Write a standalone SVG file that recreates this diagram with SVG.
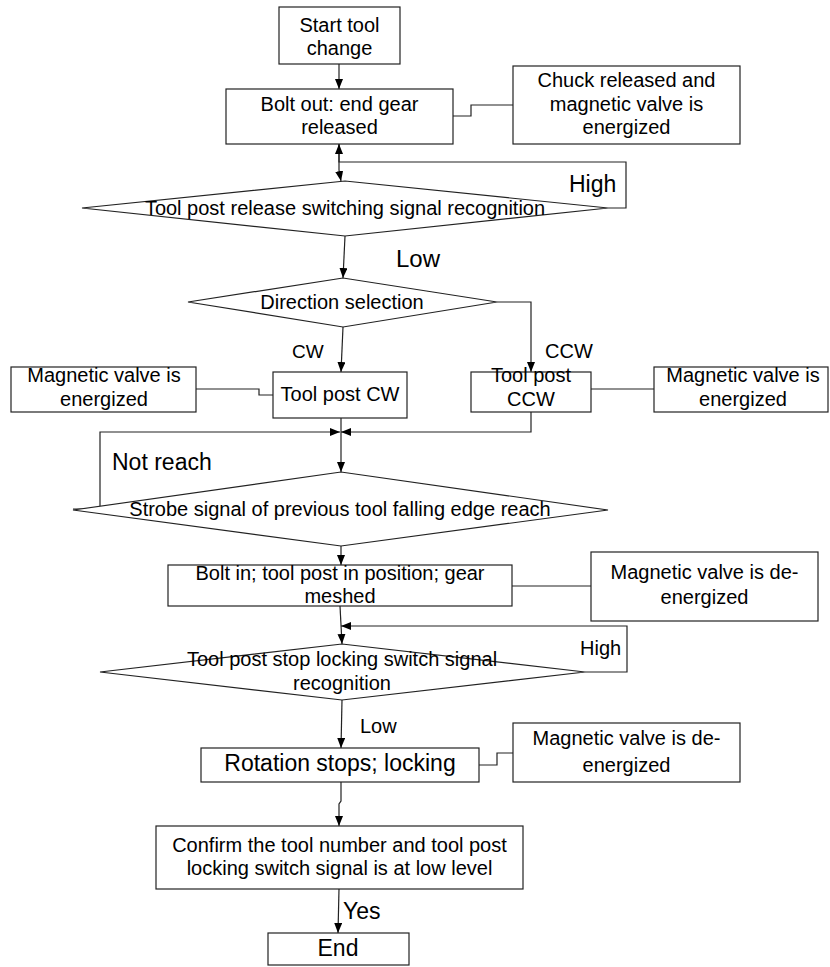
<svg xmlns="http://www.w3.org/2000/svg" width="830" height="967" viewBox="0 0 830 967">
<style>
.n{fill:#fff;stroke:#222;stroke-width:1.2}
.t{font-family:"Liberation Sans",Arial,sans-serif;font-size:20px;fill:#000;text-anchor:middle}
.l{font-family:"Liberation Sans",Arial,sans-serif;fill:#000}
.c{fill:none;stroke:#222;stroke-width:1.2;marker-end:url(#ah)}
.p{fill:none;stroke:#222;stroke-width:1.2}
</style>
<defs>
<marker id="ah" markerUnits="userSpaceOnUse" markerWidth="10" markerHeight="8" refX="10" refY="4" orient="auto">
<path d="M0,0 L10,4 L0,8 z" fill="#000"/>
</marker>
</defs>
<rect width="830" height="967" fill="#fff"/>
<g id="connectors">
<path class="c" d="M339,64 V89"/>
<path class="p" d="M453,116 H471 V105 H513"/>
<path class="c" d="M339,144 V170 L341,181"/>
<path class="c" d="M608,208 H626 V162 H339 V144"/>
<path class="c" d="M345,236 L343,278"/>
<path class="c" d="M343,327 L341,372"/>
<path class="c" d="M497,302 H531 V372"/>
<path class="p" d="M196,389 H259 V395 H273"/>
<path class="p" d="M591,389 H654"/>
<path class="c" d="M341,418 V472"/>
<path class="c" d="M531,412 V432 H341"/>
<path class="c" d="M73,509 H100 V432 H340"/>
<path class="c" d="M341,546 V565"/>
<path class="p" d="M512,586 H591"/>
<path class="c" d="M340,606 L342,644"/>
<path class="c" d="M585,672 H627 V626 H341"/>
<path class="c" d="M342,700 L341,748"/>
<path class="p" d="M479,765 H497 V753 H513"/>
<path class="c" d="M341,782 V801 L339,804 V826"/>
<path class="c" d="M339,889 L338,933"/>
</g>
<g id="start"><rect class="n" x="279" y="7" width="121" height="57"/><text class="t" x="339.5" y="32">Start tool</text><text class="t" x="339.5" y="55">change</text></g>
<g id="boltout"><rect class="n" x="226" y="89" width="227" height="55"/><text class="t" x="339.5" y="111">Bolt out: end gear</text><text class="t" x="339.5" y="134">released</text></g>
<g id="chuck"><rect class="n" x="513" y="66" width="227" height="78"/><text class="t" x="626.5" y="87">Chuck released and</text><text class="t" x="626.5" y="111">magnetic valve is</text><text class="t" x="626.5" y="134">energized</text></g>
<g id="release"><polygon class="n" points="82,208 345,181 608,208 345,236"/><text class="t" x="345" y="215">Tool post release switching signal recognition</text></g>
<g id="direction"><polygon class="n" points="188,302 343,278 497,302 343,327"/><text class="t" x="342" y="309">Direction selection</text></g>
<g id="cw"><rect class="n" x="273" y="372" width="134" height="46"/><text class="t" x="340" y="401">Tool post CW</text></g>
<g id="magL"><rect class="n" x="11" y="367" width="185" height="45"/><text class="t" x="104" y="382">Magnetic valve is</text><text class="t" x="104" y="406">energized</text></g>
<g id="ccw"><rect class="n" x="471" y="372" width="120" height="40"/><text class="t" x="531" y="382">Tool post</text><text class="t" x="531" y="406">CCW</text></g>
<g id="magR"><rect class="n" x="654" y="367" width="174" height="45"/><text class="t" x="743" y="382">Magnetic valve is</text><text class="t" x="743" y="406">energized</text></g>
<g id="strobe"><polygon class="n" points="73,510 341,472 608,510 341,546"/><text class="t" x="340" y="516">Strobe signal of previous tool falling edge reach</text></g>
<g id="boltin"><rect class="n" x="168" y="565" width="344" height="41"/><text class="t" x="340" y="580">Bolt in; tool post in position; gear</text><text class="t" x="340" y="603">meshed</text></g>
<g id="magDe1"><rect class="n" x="591" y="552" width="227" height="69"/><text class="t" x="704.5" y="579">Magnetic valve is de-</text><text class="t" x="704.5" y="604">energized</text></g>
<g id="stoplock"><polygon class="n" points="100,672 342,644 585,672 342,700"/><text class="t" x="342" y="666">Tool post stop locking switch signal</text><text class="t" x="342" y="690">recognition</text></g>
<g id="rotation"><rect class="n" x="201" y="748" width="278" height="34"/><text class="t" x="340" y="771" style="font-size:23px">Rotation stops; locking</text></g>
<g id="magDe2"><rect class="n" x="513" y="723" width="227" height="59"/><text class="t" x="626.5" y="745">Magnetic valve is de-</text><text class="t" x="626.5" y="772">energized</text></g>
<g id="confirm"><rect class="n" x="156" y="826" width="367" height="63"/><text class="t" x="339.5" y="852">Confirm the tool number and tool post</text><text class="t" x="339.5" y="875">locking switch signal is at low level</text></g>
<g id="end"><rect class="n" x="268" y="933" width="141" height="32"/><text class="t" x="338" y="956" style="font-size:23px">End</text></g>
<g id="labels">
<text class="l" x="569" y="192" font-size="23">High</text>
<text class="l" x="396" y="267" font-size="24">Low</text>
<text class="l" x="292" y="358" font-size="19">CW</text>
<text class="l" x="545" y="358" font-size="20">CCW</text>
<text class="l" x="112" y="470" font-size="23">Not reach</text>
<text class="l" x="580" y="655" font-size="20">High</text>
<text class="l" x="360" y="733" font-size="20">Low</text>
<text class="l" x="343" y="919" font-size="23">Yes</text>
</g>
</svg>
